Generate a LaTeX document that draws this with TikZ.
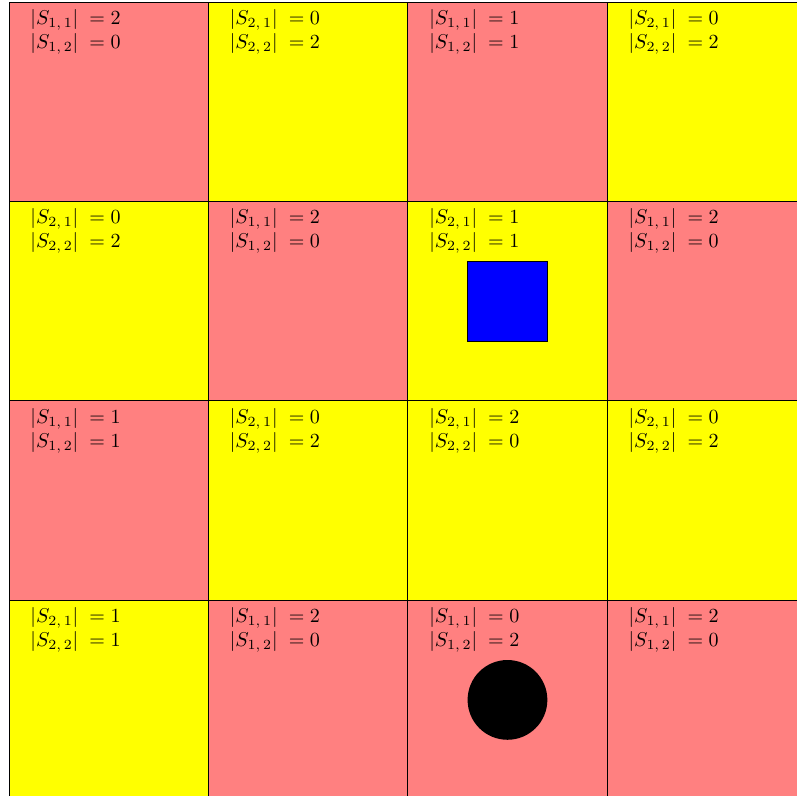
\documentclass[tikz,border=0pt]{standalone}
\usetikzlibrary{positioning}
\definecolor{cellred}{RGB}{255,128,128}
\definecolor{cellyellow}{RGB}{255,255,0}
\definecolor{goalblue}{RGB}{0,0,255}
\tikzset{
  cell/.style={rectangle, draw=black, thin, minimum size=3.5cm, inner sep=0pt, outer sep=0pt},
  kind1/.style={fill=cellred},
  kind2/.style={fill=cellyellow},
  counts/.style={anchor=north west, align=left, inner sep=0pt, font=\normalsize},
  goal/.style={rectangle, draw=black, fill=goalblue, minimum size=1.4cm, inner sep=0pt},
  agent/.style={circle, fill=black, minimum size=1.4cm, inner sep=0pt},
}
\begin{document}
\begin{tikzpicture}[x=3.5cm, y=3.5cm]
  \useasboundingbox (-0.045,0.019) rectangle (3.952,4.01);

  % --- GRID (row/col/kind/first/second) ---
  \foreach \r/\c/\k/\a/\b in {1/1/1/2/0, 1/2/2/0/2, 1/3/1/1/1, 1/4/2/0/2,
                              2/1/2/0/2, 2/2/1/2/0, 2/3/2/1/1, 2/4/1/2/0,
                              3/1/1/1/1, 3/2/2/0/2, 3/3/2/2/0, 3/4/2/0/2,
                              4/1/2/1/1, 4/2/1/2/0, 4/3/1/0/2, 4/4/1/2/0} {
    \node[cell, kind\k] (cell-\r-\c) at (\c-0.5, 4.5-\r) {};
    \node[counts] (cnt-\r-\c) at ([xshift=0.37cm, yshift=-0.12cm]cell-\r-\c.north west)
      {$|S_{\k,\,1}|\;= \a$\\$|S_{\k,\,2}|\;= \b$};
  }

  % --- MARKERS ---
  \node[goal] (goal) at (cell-2-3) {};
  \node[agent] (agent) at (cell-4-3) {};
\end{tikzpicture}
\end{document}
